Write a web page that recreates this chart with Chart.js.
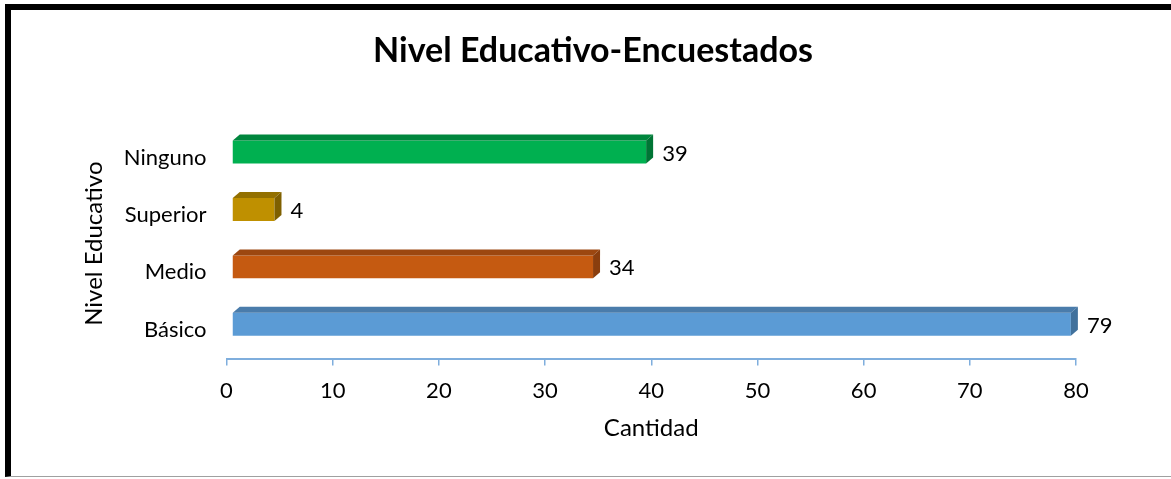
<!DOCTYPE html>
<html>
<head>
<meta charset="utf-8">
<script src="https://cdn.jsdelivr.net/npm/chart.js@4"></script>
<style>
  html, body { margin: 0; padding: 0; background: #fff; overflow: hidden; width: 1171px; height: 479px; }
  #wrap { position: absolute; left: 0; top: 0; width: 1186px; height: 479px; }
  #frame { position: absolute; left: 5px; top: 4px; width: 1200px; height: 473px;
           border-top: 6px solid #000; border-left: 6px solid #000; border-bottom: 1px solid #a0a0a0;
           box-sizing: border-box; pointer-events: none; }
</style>
</head>
<body>
<div id="wrap"><canvas id="nivelChart" width="1186" height="479"></canvas></div>
<div id="frame"></div>
<script>
// data (bottom to top, like the original sheet)
const categories = ['Básico', 'Medio', 'Superior', 'Ninguno'];
const cantidad = [79, 34, 4, 39];
const xTicks = [0, 10, 20, 30, 40, 50, 60, 70, 80];

// colours: front, top, side
const frontColors = ['#5B9BD5', '#C55A11', '#BF9000', '#00B050'];
const topColors   = ['#4A7CAB', '#9C4710', '#937000', '#00863D'];
const sideColors  = ['#41719C', '#8A3E0E', '#7F6000', '#007535'];

const FONT = 'Lato, "Open Sans", sans-serif';

// fake 3d: shift front face, then add top and side faces + value labels
const bars3d = {
  id: 'bars3d',
  beforeDatasetsDraw(chart) {
    chart.ctx.save();
    chart.ctx.translate(5.5, -5.5);
  },
  afterDatasetsDraw(chart) {
    const ctx = chart.ctx;
    ctx.restore();
    const dx = 7, dy = -6;
    chart.getDatasetMeta(0).data.forEach(function (el, i) {
      const left = el.base + 5.5, right = el.x + 5.5;
      const top = el.y - el.height / 2 - 5.5, bottom = el.y + el.height / 2 - 5.5;
      // top face
      ctx.fillStyle = topColors[i];
      ctx.beginPath();
      ctx.moveTo(left, top);
      ctx.lineTo(left + dx, top + dy);
      ctx.lineTo(right + dx, top + dy);
      ctx.lineTo(right, top);
      ctx.closePath();
      ctx.fill();
      // side face
      ctx.fillStyle = sideColors[i];
      ctx.beginPath();
      ctx.moveTo(right, top);
      ctx.lineTo(right + dx, top + dy);
      ctx.lineTo(right + dx, bottom + dy);
      ctx.lineTo(right, bottom);
      ctx.closePath();
      ctx.fill();
      // value label
      ctx.fillStyle = '#000';
      ctx.font = '22px ' + FONT;
      ctx.textAlign = 'left';
      ctx.textBaseline = 'middle';
      ctx.fillText(String(cantidad[i]), right + dx + 9, el.y - 4);
    });
  }
};

new Chart(document.getElementById('nivelChart'), {
  type: 'bar',
  data: {
    labels: categories,
    datasets: [{
      data: cantidad,
      backgroundColor: frontColors,
      borderWidth: 0,
      categoryPercentage: 1,
      barPercentage: 0.4
    }]
  },
  options: {
    indexAxis: 'y',
    responsive: false,
    animation: false,
    layout: { padding: 0 },
    plugins: {
      legend: { display: false },
      tooltip: { enabled: false },
      title: {
        display: true,
        text: 'Nivel Educativo-Encuestados',
        color: '#000',
        font: { family: FONT, size: 34, weight: 'bold' },
        padding: { top: 31, bottom: 57 }
      }
    },
    scales: {
      x: {
        min: 0,
        max: 80,
        afterBuildTicks(scale) { scale.ticks = xTicks.map(v => ({ value: v })); },
        afterFit(scale) { scale.height = 120.5; },
        grid: { drawOnChartArea: false, drawTicks: true, tickLength: 7, color: '#7FAEDD', lineWidth: 1.5 },
        border: { display: true, color: '#7FAEDD', width: 2 },
        ticks: { color: '#000', font: { family: FONT, size: 22 }, padding: 12 },
        title: { display: true, text: 'Cantidad', color: '#000', font: { family: FONT, size: 24 }, padding: { bottom: 36 } }
      },
      y: {
        reverse: true,
        afterFit(scale) { scale.width = 226.5; },
        grid: { display: false },
        border: { display: false },
        ticks: { color: '#000', font: { family: FONT, size: 22 }, padding: 12 },
        title: { display: true, text: 'Nivel Educativo', color: '#000', font: { family: FONT, size: 24 }, padding: { top: 80 } }
      },
      // empty right-hand strip so the title centres on the whole frame
      pad: {
        type: 'linear',
        position: 'right',
        afterFit(scale) { scale.width = 110; },
        grid: { display: false },
        border: { display: false },
        ticks: { display: false }
      }
    }
  },
  plugins: [bars3d]
});
</script>
</body>
</html>
